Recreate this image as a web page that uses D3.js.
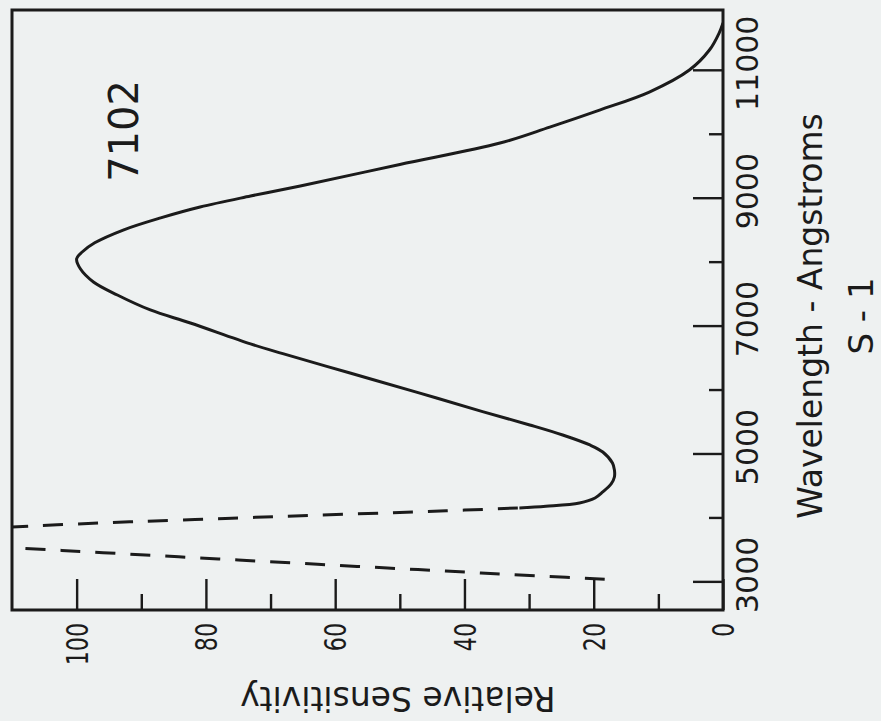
<!DOCTYPE html>
<html><head><meta charset="utf-8">
<script src="https://cdn.jsdelivr.net/npm/d3@7"></script>
<style>
html,body{margin:0;padding:0;background:#eef1f1;}
svg{display:block;}
</style></head><body>
<svg id="chart" width="881" height="721"></svg>
<script>
// ---- data (wavelength in Angstroms, relative sensitivity in %) ----
const wavelengthTicksMajor = [3000, 5000, 7000, 9000, 11000];
const wavelengthTicksMinor = [4000, 6000, 8000, 10000];
const sensitivityTicksMajor = [0, 20, 40, 60, 80, 100];
const sensitivityTicksMinor = [10, 30, 50, 70, 90];

// dashed short-wavelength rising edge
const uvRiseWavelength = [3050, 3100, 3150, 3200, 3250, 3300, 3350, 3400, 3450, 3500, 3545, 3570];
const uvRiseSensitivity = [18.3, 28.5, 38, 47.2, 56.6, 65.8, 75, 84.2, 93.3, 102.3, 110.5, 115];

// dashed short-wavelength falling edge (joins the solid curve)
const uvFallWavelength = [3840, 3860, 3900, 3950, 4000, 4050, 4100, 4130, 4165];
const uvFallSensitivity = [116, 111.5, 103, 91, 77, 63, 48, 40, 31.5];

// solid S-1 response curve
const responseWavelength = [4165, 4190, 4242, 4320, 4414, 4539, 4648, 4760, 4867, 5039, 5149, 5305, 5462, 5671, 5971, 6274, 6577, 6729, 7056, 7260, 7494, 7698, 7900, 8060, 8170, 8310, 8510, 8700, 8870, 9042, 9200, 9535, 9870, 10120, 10386, 10668, 11012, 11325, 11591, 11750];
const responseSensitivity = [31.5, 27.4, 22.2, 19.8, 18.6, 17.3, 16.8, 16.8, 17.1, 18.6, 20.6, 24.8, 29.9, 37.2, 47.3, 57.7, 68.1, 73.1, 82.4, 88.6, 93.7, 97.4, 99.4, 100, 99.1, 97.2, 92.8, 87, 80.9, 73.1, 65.4, 50, 34.5, 26.8, 19.1, 11.4, 5.2, 2.1, 0.6, 0];

const tubeLabel = "7102";
const tubeLabelWavelength = 10060;
const tubeLabelSensitivity = 90.5;
const xTitle = "Wavelength - Angstroms";
const xSubtitle = "S - 1";
const yTitle = "Relative Sensitivity";

// ---- drawing ----
const ink = "#1b1b1b";
const font = "'DejaVu Sans', sans-serif";
const W = 600, H = 711;
const svg = d3.select("#chart");
svg.append("rect").attr("width", 881).attr("height", 721).attr("fill", "#eef1f1");

// the whole chart is drawn upright, then turned a quarter turn counter-clockwise
const g = svg.append("g").attr("transform", "translate(12,610) rotate(-90)");

const x = d3.scaleLinear().domain([2568, 11951]).range([0, W]);
const y = d3.scaleLinear().domain([0, 110]).range([H, 0]);

g.append("clipPath").attr("id", "plotclip")
  .append("rect").attr("width", W).attr("height", H);

// wavelength axis (bottom of the upright chart)
const xMajor = g.append("g").attr("transform", `translate(0,${H})`)
  .call(d3.axisBottom(x).tickValues(wavelengthTicksMajor).tickSize(-30).tickPadding(14).tickFormat(d3.format("d")));
const xMinor = g.append("g").attr("transform", `translate(0,${H})`)
  .call(d3.axisBottom(x).tickValues(wavelengthTicksMinor).tickSize(-14).tickFormat(""));
[xMajor, xMinor].forEach(a => {
  a.select(".domain").remove();
  a.selectAll("line").attr("stroke", ink).attr("stroke-width", 2.4);
});
xMajor.selectAll("text").attr("fill", ink).attr("font-family", font).attr("font-size", 30).attr("dx", 7);

// sensitivity axis (left of the upright chart)
const yMajor = g.append("g")
  .call(d3.axisLeft(y).tickValues(sensitivityTicksMajor).tickSize(-31).tickFormat(d3.format("d")));
const yMinor = g.append("g")
  .call(d3.axisLeft(y).tickValues(sensitivityTicksMinor).tickSize(-16).tickFormat(""));
[yMajor, yMinor].forEach(a => {
  a.select(".domain").remove();
  a.selectAll("line").attr("stroke", ink).attr("stroke-width", 2.4);
});
yMajor.selectAll("text")
  .attr("fill", ink).attr("font-family", font).attr("font-size", 30)
  .attr("x", 0).attr("dy", "0.36em").attr("text-anchor", "end")
  .attr("transform", "translate(-13,0) scale(0.74,1)");

// frame
g.append("rect").attr("width", W).attr("height", H)
  .attr("fill", "none").attr("stroke", ink).attr("stroke-width", 3);

const line = d3.line().x(d => x(d[0])).y(d => y(d[1])).curve(d3.curveCatmullRom.alpha(0.5));
const plot = g.append("g").attr("clip-path", "url(#plotclip)");

plot.append("path").datum(d3.zip(uvRiseWavelength, uvRiseSensitivity))
  .attr("d", line).attr("fill", "none").attr("stroke", ink).attr("stroke-width", 3)
  .attr("stroke-dasharray", "20,15");
plot.append("path").datum(d3.zip(uvFallWavelength, uvFallSensitivity))
  .attr("d", line).attr("fill", "none").attr("stroke", ink).attr("stroke-width", 3)
  .attr("stroke-dasharray", "20,15");
plot.append("path").datum(d3.zip(responseWavelength, responseSensitivity))
  .attr("d", line).attr("fill", "none").attr("stroke", ink).attr("stroke-width", 3)
  .attr("stroke-linejoin", "round");

// annotations and titles
g.append("text").attr("x", x(tubeLabelWavelength)).attr("y", y(tubeLabelSensitivity))
  .attr("text-anchor", "middle").attr("font-family", font).attr("font-size", 40)
  .attr("fill", ink).text(tubeLabel);

g.append("text").attr("x", W / 2 - 6).attr("y", H + 99)
  .attr("text-anchor", "middle").attr("font-family", font).attr("font-size", 33)
  .attr("fill", ink).text(xTitle);
g.append("text").attr("x", W / 2 - 6).attr("y", H + 150)
  .attr("text-anchor", "middle").attr("font-family", font).attr("font-size", 34)
  .attr("fill", ink).text(xSubtitle);

g.append("text").attr("transform", `translate(-77,${y(50) - 2}) rotate(-90)`)
  .attr("text-anchor", "middle").attr("font-family", font).attr("font-size", 33)
  .attr("fill", ink).text(yTitle);
</script>
</body></html>
